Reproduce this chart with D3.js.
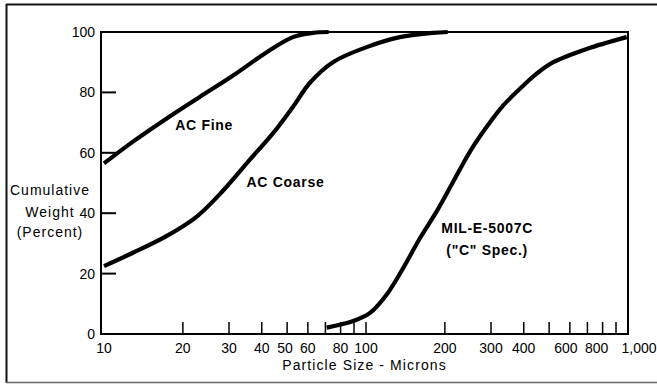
<!DOCTYPE html>
<html>
<head>
<meta charset="utf-8">
<script src="https://cdn.jsdelivr.net/npm/d3@7"></script>
<style>
  html, body { margin: 0; padding: 0; background: #fff; }
  svg { display: block; font-family: "Liberation Sans", Arial, Helvetica, sans-serif; }
</style>
</head>
<body>
<svg id="chart" width="657" height="384"></svg>
<script>
// ---- data (particle size in microns, cumulative weight in percent) ----
const acFineSize   = [10, 12.9, 17.3, 23.2, 31.1, 41.8, 52.6, 62.8, 72];
const acFinePct    = [56.5, 63.7, 71.3, 78.5, 85.6, 93.3, 98.3, 99.7, 100];
const acCoarseSize = [10, 12.9, 17.3, 22.6, 28.5, 36.1, 44.2, 52.6, 61.1, 74.8, 100.6, 134.8, 180, 205];
const acCoarsePct  = [22.5, 26.9, 32.4, 38.9, 47.5, 57.8, 66.5, 75.2, 83.2, 90.0, 95.0, 98.3, 99.7, 100];
const milSize      = [70.8, 89.4, 103.6, 120, 138.8, 160.8, 186.1, 215.4, 249.4, 288.9, 334.2, 387, 448, 518.6, 695.8, 988.6];
const milPct       = [2.1, 4.3, 7.0, 13.1, 21.9, 31.8, 40.6, 50.5, 60.4, 68.6, 75.7, 81.2, 86.2, 90.0, 94.4, 98.3];

const xTickValues  = [20, 30, 40, 50, 60, 70, 80, 90, 100, 200, 300, 400, 500, 600, 700, 800, 900];
const xTickLabels  = [10, 20, 30, 40, 50, 60, 80, 100, 200, 300, 400, 600, 800, 1000];
const yTickValues  = [20, 40, 60, 80];
const yTickLabels  = [0, 20, 40, 60, 80, 100];

const seriesNames  = ["AC Fine", "AC Coarse", "MIL-E-5007C"];

// ---- layout ----
const svg = d3.select("#chart");
const box = { left: 101, top: 32, right: 628, bottom: 334 };

const x = d3.scaleLog().domain([10, 1000]).range([104, 628]);
const y = d3.scaleLinear().domain([0, 100]).range([334, 32]);

// small label nudges so crowded tick labels sit as in the original print
const labelNudge = { 50: -2, 600: -4, 800: -6, 1000: 11 };

// outer frame (scan border)
svg.append("line").attr("x1", 6).attr("x2", 657).attr("y1", 4.5).attr("y2", 4.5)
  .attr("stroke", "#111").attr("stroke-width", 2);
svg.append("line").attr("x1", 6.5).attr("x2", 6.5).attr("y1", 4).attr("y2", 383)
  .attr("stroke", "#111").attr("stroke-width", 2);
svg.append("line").attr("x1", 6).attr("x2", 657).attr("y1", 382.5).attr("y2", 382.5)
  .attr("stroke", "#666").attr("stroke-width", 1.5);

// plot box
svg.append("rect")
  .attr("x", box.left).attr("y", box.top)
  .attr("width", box.right - box.left).attr("height", box.bottom - box.top)
  .attr("fill", "none").attr("stroke", "#000").attr("stroke-width", 2);

// x ticks (inward, from bottom)
svg.append("g").selectAll("line").data(xTickValues).join("line")
  .attr("x1", d => x(d)).attr("x2", d => x(d))
  .attr("y1", box.bottom).attr("y2", box.bottom - 12)
  .attr("stroke", "#000").attr("stroke-width", 1.5);

const fmt = d3.format(",");
svg.append("g").selectAll("text").data(xTickLabels).join("text")
  .attr("x", d => x(d) + (labelNudge[d] || 0)).attr("y", 353)
  .attr("text-anchor", "middle").attr("font-size", 14).attr("fill", "#000")
  .text(d => fmt(d));

// y ticks (inward, from left)
svg.append("g").selectAll("line").data(yTickValues).join("line")
  .attr("x1", box.left).attr("x2", box.left + 15)
  .attr("y1", d => y(d)).attr("y2", d => y(d))
  .attr("stroke", "#000").attr("stroke-width", 2);

svg.append("g").selectAll("text").data(yTickLabels).join("text")
  .attr("x", 95).attr("y", d => y(d)).attr("dy", "0.36em")
  .attr("text-anchor", "end").attr("font-size", 14).attr("fill", "#000")
  .text(d => d);

// axis titles
const yTitle = svg.append("text").attr("text-anchor", "middle").attr("font-size", 14)
  .attr("letter-spacing", 1).attr("fill", "#000");
[["Cumulative", 195], ["Weight", 216.5], ["(Percent)", 237]].forEach(([t, yy]) => {
  yTitle.append("tspan").attr("x", 50).attr("y", yy).text(t);
});
svg.append("text").attr("x", (box.left + box.right) / 2).attr("y", 370)
  .attr("text-anchor", "middle").attr("font-size", 14).attr("letter-spacing", 1.1)
  .attr("fill", "#000").text("Particle Size - Microns");

// curves
const line = d3.line().x(d => x(d[0])).y(d => y(d[1])).curve(d3.curveCatmullRom.alpha(0.5));
const series = [
  d3.zip(acFineSize, acFinePct),
  d3.zip(acCoarseSize, acCoarsePct),
  d3.zip(milSize, milPct)
];
svg.append("g").selectAll("path").data(series).join("path")
  .attr("d", line)
  .attr("fill", "none").attr("stroke", "#000").attr("stroke-width", 4.2)
  .attr("stroke-linecap", "butt").attr("stroke-linejoin", "round");

// curve labels
const labels = [
  { text: seriesNames[0], xv: 18.7, yv: 67.5, anchor: "start" },
  { text: seriesNames[1], xv: 35.0, yv: 48.7, anchor: "start" },
  { text: seriesNames[2], xv: 290, yv: 33.4, anchor: "middle" },
  { text: "(\"C\" Spec.)",  xv: 290, yv: 26.2, anchor: "middle" }
];
svg.append("g").selectAll("text").data(labels).join("text")
  .attr("x", d => x(d.xv)).attr("y", d => y(d.yv))
  .attr("text-anchor", d => d.anchor)
  .attr("font-size", 14).attr("font-weight", "bold").attr("letter-spacing", 0.7)
  .attr("fill", "#000")
  .text(d => d.text);
</script>
</body>
</html>
